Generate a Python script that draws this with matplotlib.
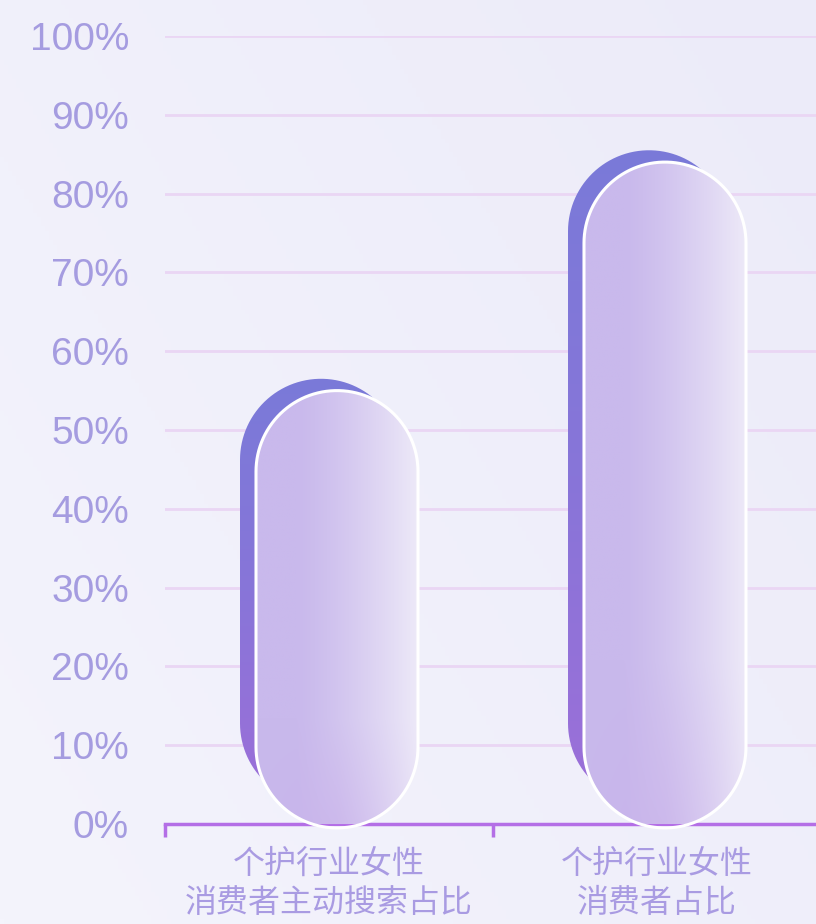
import numpy as np
import matplotlib.pyplot as plt
from matplotlib.path import Path
from matplotlib.patches import PathPatch
from matplotlib.colors import LinearSegmentedColormap, to_rgb

categories = ["个护行业女性\n消费者主动搜索占比", "个护行业女性\n消费者占比"]
values = [55, 84]
y_ticks = [0, 10, 20, 30, 40, 50, 60, 70, 80, 90, 100]
y_labels = [f"{v}%" for v in y_ticks]

W, H = 816, 924
fig = plt.figure(figsize=(W / 100, H / 100), dpi=100)

# soft lavender background
bg = fig.add_axes([0, 0, 1, 1], zorder=-10)
gx, gy = np.meshgrid(np.linspace(0, 1, 200), np.linspace(0, 1, 200))
c1, c2 = np.array(to_rgb("#f4f4fc")), np.array(to_rgb("#ecebf9"))
t = (0.6 * gx + 0.4 * (1 - gy))[..., None]
bg.imshow(c1 * (1 - t) + c2 * t, extent=[0, 1, 0, 1], aspect="auto", origin="upper")
bg.axis("off")

ax_left, ax_bottom, ax_w, ax_h = 165, 924 - 824, 656, 788
ax = fig.add_axes([ax_left / W, ax_bottom / H, ax_w / W, ax_h / H])
ax.set_facecolor("none")
ax.set_xlim(0, 2)
ax.set_ylim(0, 100)

px_x = 2 / ax_w     # data units per pixel
px_y = 100 / ax_h

for v in y_ticks[1:]:
    ax.axhline(v, color="#ead6f4", lw=2, zorder=1)


def capsule(xc, y0, y1, half_w_px):
    rx = half_w_px * px_x
    ry = half_w_px * px_y
    a_top = np.linspace(0, np.pi, 60)
    a_bot = np.linspace(np.pi, 2 * np.pi, 60)
    top = np.column_stack([xc + rx * np.cos(a_top), y1 - ry + ry * np.sin(a_top)])
    bot = np.column_stack([xc + rx * np.cos(a_bot), y0 + ry + ry * np.sin(a_bot)])
    verts = np.vstack([top, bot, top[:1]])
    codes = [Path.MOVETO] + [Path.LINETO] * (len(verts) - 2) + [Path.CLOSEPOLY]
    return Path(verts, codes), (xc - rx, xc + rx, y0, y1)


def clip_to(im, patch):
    im.set_clip_path(patch)
    im.set_clip_box(None)


shadow_cmap = LinearSegmentedColormap.from_list("sh", ["#7a7ad9", "#8875d8", "#9c6fd9"])
half_w = 81
for i, v in enumerate(values):
    xc = i + 0.5
    # shadow capsule, shifted up-left
    p, (xa, xb, ya, yb) = capsule(xc - 8 * px_x, 2.5, v + 1.5, half_w)
    patch = PathPatch(p, facecolor="none", edgecolor="none", zorder=3, clip_on=False)
    ax.add_patch(patch)
    grad = np.linspace(0, 1, 256)[:, None] * np.ones((1, 8))
    im = ax.imshow(grad, extent=[xa, xb, ya, yb], aspect="auto", origin="upper",
                   cmap=shadow_cmap, zorder=3)
    clip_to(im, patch)

    # front glassy capsule
    p, (xa, xb, ya, yb) = capsule(xc + 8 * px_x, -0.5, v, half_w)
    patch = PathPatch(p, facecolor="none", edgecolor="white", lw=2.2, zorder=5, clip_on=False)
    ax.add_patch(patch)
    hx, hy = np.meshgrid(np.linspace(0, 1, 120), np.linspace(0, 1, 300))
    left, right = np.array(to_rgb("#c9b9ec")), np.array(to_rgb("#ede9f8"))
    purple = np.array(to_rgb("#c7ade9"))
    th = np.clip((hx - 0.25) / 0.75, 0, 1)[..., None] ** 1.3
    img = left * (1 - th) + right * th
    tv = (np.clip(hy - 0.75, 0, 1) / 0.25)[..., None] * (1 - np.abs(hx - 0.5)[..., None] * 1.6).clip(0, 1)
    img = img * (1 - 0.5 * tv) + purple * 0.5 * tv
    im = ax.imshow(img, extent=[xa, xb, ya, yb], aspect="auto", origin="upper", zorder=4)
    clip_to(im, patch)

ax.set_xlim(0, 2)
ax.set_ylim(0, 100)

# axis styling
for s in ["top", "right", "left"]:
    ax.spines[s].set_visible(False)
ax.spines["bottom"].set_color("#b46fe6")
ax.spines["bottom"].set_linewidth(2.5)
ax.spines["bottom"].set_zorder(2)

ax.set_yticks(y_ticks)
ax.set_yticklabels(y_labels, fontsize=28, color="#a59ce0", family="Liberation Sans")
ax.tick_params(axis="y", length=0, pad=26)

ax.set_xticks([0, 1, 2])
ax.set_xticklabels(["", "", ""])
ax.tick_params(axis="x", which="major", length=9, width=2.5, color="#b46fe6")
ax.set_xticks([0.5, 1.5], minor=True)
ax.set_xticklabels(categories, minor=True, fontsize=23, color="#a99be2",
                   family=["Noto Sans CJK SC", "DejaVu Sans"], linespacing=1.3)
ax.tick_params(axis="x", which="minor", length=0, pad=17)

fig.savefig("out.png", dpi=100)
